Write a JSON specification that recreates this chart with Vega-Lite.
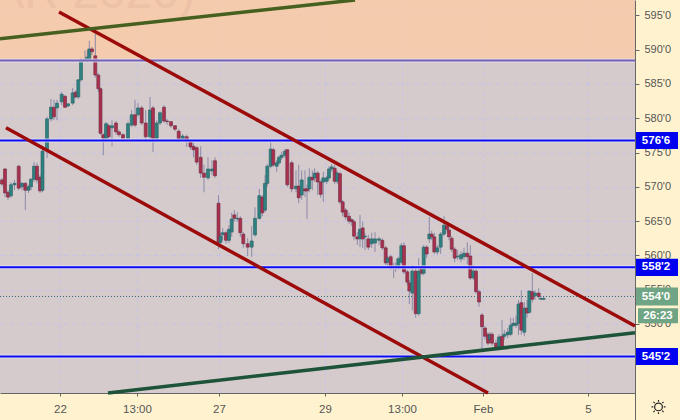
{"$schema":"https://vega.github.io/schema/vega-lite/v6.json","width":635,"height":393,"autosize":{"type":"none"},"padding":{"left":0,"top":0,"right":45,"bottom":27},"background":"#fff3cf","view":{"fill":"#d5cbcd","stroke":null},
"datasets":{"candles":[
{"t":2,"o":571.0,"c":570.4,"h":571.3,"l":570.1},{"t":5,"o":572.6,"c":569.1,"h":572.7,"l":568.5},{"t":8,"o":569.2,"c":568.5,"h":569.5,"l":568.1},{"t":11,"o":568.7,"c":570.3,"h":570.7,"l":568.4},{"t":14.5,"o":570.3,"c":570.5,"h":571,"l":569.5},{"t":18.7,"o":573,"c":569.8,"h":573.2,"l":569.5},{"t":22,"o":570,"c":570.5,"h":570.7,"l":569.5},{"t":25.3,"o":570.5,"c":569.5,"h":570.7,"l":566.6},{"t":28.5,"o":569.5,"c":570,"h":570.3,"l":569.1},{"t":31,"o":570,"c":571.1,"h":571.3,"l":569.5},{"t":34,"o":571.1,"c":573,"h":573.6,"l":570.7},{"t":37,"o":573,"c":571,"h":573.5,"l":570.5},{"t":40,"o":571.4,"c":569.4,"h":571.7,"l":569.1},{"t":42.5,"o":569.5,"c":575.2,"h":575.5,"l":569.2},{"t":47,"o":575.4,"c":579.9,"h":580.2,"l":574.2},{"t":51,"o":579.9,"c":581.6,"h":582.8,"l":579.5},{"t":54,"o":581.6,"c":580.2,"h":582.7,"l":579.7},{"t":57,"o":581.5,"c":582.2,"h":582.7,"l":579.7},{"t":61.7,"o":582.4,"c":583.5,"h":583.8,"l":581.9},{"t":65,"o":583.2,"c":581.6,"h":583.4,"l":581.5},{"t":68,"o":581.8,"c":582.1,"h":582.2,"l":581.6},{"t":72.7,"o":582.2,"c":583.7,"h":584.4,"l":581.9},{"t":75.7,"o":583.8,"c":583.1,"h":584.1,"l":582.9},{"t":78.3,"o":583.1,"c":585.6,"h":585.7,"l":582.8},{"t":81,"o":585.6,"c":588.5,"h":588.8,"l":585.3},{"t":85,"o":588.5,"c":588.6,"h":589.9,"l":588.3},{"t":87.3,"o":588.5,"c":588.9,"h":589.9,"l":588.2},{"t":89.3,"o":588.6,"c":590.1,"h":591.3,"l":588.5},{"t":92,"o":590.1,"c":589.7,"h":590.4,"l":589.2},{"t":95.3,"o":589.1,"c":586.3,"h":592.4,"l":585.9},{"t":98.3,"o":586.3,"c":584.3,"h":586.6,"l":583.8},{"t":100.5,"o":584.3,"c":577.8,"h":584.5,"l":577.6},{"t":103.3,"o":577.6,"c":577.1,"h":577.8,"l":574.6},{"t":106,"o":577.1,"c":579.2,"h":579.5,"l":576.5},{"t":108.7,"o":578.9,"c":577.3,"h":579.2,"l":576.8},{"t":112,"o":578.6,"c":578.9,"h":579.7,"l":575.9},{"t":116,"o":579.3,"c":578,"h":579.6,"l":577.6},{"t":119,"o":578,"c":577.6,"h":578.3,"l":577.3},{"t":123,"o":577.6,"c":577.1,"h":577.8,"l":576.5},{"t":128,"o":577.1,"c":579.2,"h":579.5,"l":576.8},{"t":131.7,"o":579,"c":580.5,"h":581.2,"l":578.7},{"t":135,"o":580.5,"c":579,"h":582.7,"l":578.7},{"t":138,"o":580.5,"c":581.5,"h":582.2,"l":580.2},{"t":141.7,"o":581.5,"c":579.3,"h":581.8,"l":579},{"t":145.7,"o":579.3,"c":577.3,"h":581.2,"l":576.5},{"t":150,"o":577.3,"c":581.2,"h":583.1,"l":576.5},{"t":153,"o":581.5,"c":577.1,"h":581.8,"l":575.1},{"t":156.7,"o":577.1,"c":579.3,"h":579.7,"l":576.5},{"t":160,"o":579.3,"c":580.8,"h":581,"l":579},{"t":164,"o":581.6,"c":579.6,"h":581.9,"l":579.3},{"t":167,"o":579.6,"c":579.5,"h":579.9,"l":579},{"t":171,"o":579.5,"c":578.9,"h":579.6,"l":578.6},{"t":175,"o":578.9,"c":578.4,"h":579,"l":578.1},{"t":178.7,"o":578.1,"c":577,"h":578.4,"l":576.5},{"t":182.7,"o":577,"c":577.4,"h":577.7,"l":576.7},{"t":186.7,"o":577.3,"c":576.8,"h":577.6,"l":575.8},{"t":190.5,"o":576.5,"c":575.8,"h":576.8,"l":575.4},{"t":193.5,"o":575.9,"c":575.4,"h":576.4,"l":574.3},{"t":196.7,"o":575.7,"c":573.6,"h":575.9,"l":573.2},{"t":200.7,"o":574.3,"c":572,"h":575.9,"l":571.3},{"t":204,"o":572,"c":571.4,"h":573.2,"l":569.2},{"t":208,"o":571.3,"c":572.6,"h":574.3,"l":571},{"t":212,"o":572.3,"c":572.6,"h":573.9,"l":571.7},{"t":215,"o":573.8,"c":571.6,"h":574.3,"l":571.3},{"t":218.5,"o":567.6,"c":561.9,"h":568.8,"l":560.9},{"t":220.5,"o":561.9,"c":562.8,"h":563.3,"l":561.5},{"t":222.7,"o":563,"c":563.3,"h":564,"l":562.2},{"t":226,"o":563.3,"c":562.2,"h":563.6,"l":561.7},{"t":229,"o":562.2,"c":563.8,"h":564.4,"l":561.8},{"t":231.7,"o":563.4,"c":565.3,"h":566.2,"l":562.7},{"t":234.3,"o":565.9,"c":565.4,"h":566.6,"l":564.9},{"t":237.3,"o":565.3,"c":565.4,"h":566.3,"l":564.9},{"t":240.3,"o":565.4,"c":563.3,"h":565.7,"l":562.7},{"t":243.3,"o":563.1,"c":561.7,"h":563.4,"l":561.1},{"t":247.7,"o":561.7,"c":561.2,"h":562.5,"l":559.9},{"t":251.7,"o":561.2,"c":562.1,"h":564.3,"l":559.8},{"t":255,"o":563,"c":565.4,"h":567,"l":562.7},{"t":259.3,"o":565.4,"c":568.7,"h":569.7,"l":565.2},{"t":262.3,"o":568.5,"c":566.2,"h":568.8,"l":565.7},{"t":265,"o":566.6,"c":570.5,"h":571.7,"l":566.3},{"t":267.3,"o":570.5,"c":573,"h":573.3,"l":570},{"t":270.7,"o":573,"c":575.5,"h":576.5,"l":572.7},{"t":273.3,"o":575.4,"c":573.2,"h":575.7,"l":572.9},{"t":276.7,"o":573,"c":573.5,"h":573.9,"l":572.2},{"t":279,"o":573.5,"c":574.3,"h":574.6,"l":573.2},{"t":281.7,"o":574.3,"c":574.6,"h":575.1,"l":573.9},{"t":285,"o":574.6,"c":575.2,"h":575.5,"l":574.2},{"t":287.3,"o":575.4,"c":570.3,"h":575.5,"l":570},{"t":291.7,"o":573.5,"c":569.7,"h":573.8,"l":569.2},{"t":296,"o":569.7,"c":570.1,"h":572.4,"l":569.2},{"t":298.7,"o":570.1,"c":568.4,"h":573.2,"l":567.6},{"t":301.7,"o":568.8,"c":571,"h":572.4,"l":568.1},{"t":305,"o":569.7,"c":569.4,"h":572.4,"l":568.5},{"t":307,"o":569.7,"c":569.4,"h":570.3,"l":565.3},{"t":309.3,"o":569.7,"c":571.4,"h":572.7,"l":569.2},{"t":312.3,"o":571.4,"c":571,"h":572.4,"l":569.5},{"t":314.7,"o":571.3,"c":572,"h":572.7,"l":570.7},{"t":317.7,"o":572,"c":570.7,"h":572.3,"l":568.8},{"t":320.7,"o":570.7,"c":568.9,"h":571,"l":568.4},{"t":323.3,"o":570.7,"c":571.3,"h":572.2,"l":567.8},{"t":326.7,"o":570.8,"c":571.3,"h":571.6,"l":570.4},{"t":329,"o":571.3,"c":572.6,"h":573,"l":571},{"t":331.7,"o":572.6,"c":572.9,"h":573.3,"l":572.2},{"t":334.7,"o":572.7,"c":570.8,"h":573.2,"l":570.4},{"t":337.3,"o":570.8,"c":572,"h":572.3,"l":570.4},{"t":340,"o":571.9,"c":567.8,"h":572.2,"l":567.5},{"t":342.7,"o":567.8,"c":566.3,"h":568.1,"l":565.7},{"t":345.7,"o":566.6,"c":565.6,"h":566.9,"l":565.2},{"t":349,"o":565.7,"c":565,"h":566.3,"l":564.6},{"t":351.7,"o":565.2,"c":564.9,"h":565.4,"l":564.3},{"t":354,"o":564.9,"c":562.8,"h":565.2,"l":562.2},{"t":357.3,"o":562.7,"c":562.4,"h":563.4,"l":561.5},{"t":360,"o":562.4,"c":563.8,"h":565.9,"l":561.2},{"t":362.7,"o":564,"c":562.4,"h":564.9,"l":561.1},{"t":365,"o":562.7,"c":562.8,"h":563.3,"l":560.8},{"t":368.3,"o":562.4,"c":561.2,"h":563,"l":560.8},{"t":371.7,"o":561.7,"c":562.4,"h":563.3,"l":561.1},{"t":375,"o":561.8,"c":562.4,"h":563.4,"l":560.5},{"t":379,"o":562.2,"c":562.4,"h":562.7,"l":561.5},{"t":382.3,"o":562.2,"c":561.1,"h":562.5,"l":560.8},{"t":385.7,"o":561.1,"c":558.9,"h":561.4,"l":558.6},{"t":387.7,"o":559,"c":559.6,"h":559.9,"l":558.4},{"t":390.7,"o":559.8,"c":558.3,"h":560.1,"l":557.9},{"t":393.7,"o":558.3,"c":558.4,"h":558.9,"l":556.7},{"t":395.7,"o":558.3,"c":558.4,"h":559,"l":557.6},{"t":398.3,"o":558.3,"c":559.5,"h":559.8,"l":557.9},{"t":401.3,"o":559,"c":561.4,"h":561.8,"l":558.7},{"t":404,"o":561.4,"c":557.6,"h":561.9,"l":557.3},{"t":407.3,"o":557.6,"c":556.1,"h":557.9,"l":555.7},{"t":409.3,"o":556,"c":554.8,"h":556.4,"l":552.9},{"t":412.3,"o":554.5,"c":557.7,"h":558.6,"l":552},{"t":415.7,"o":557.7,"c":551.5,"h":558.2,"l":550.9},{"t":418.7,"o":551.5,"c":557.7,"h":559.6,"l":551.2},{"t":421.7,"o":558.2,"c":557.4,"h":558.4,"l":557.1},{"t":423.7,"o":557.4,"c":561.2,"h":561.5,"l":557.1},{"t":426.7,"o":561.2,"c":560.2,"h":561.5,"l":559.6},{"t":429.3,"o":562.4,"c":563.1,"h":565.6,"l":561.8},{"t":431.7,"o":563.1,"c":562.7,"h":563.6,"l":562.2},{"t":434.3,"o":562.7,"c":560.5,"h":563.3,"l":560.2},{"t":437.3,"o":560.5,"c":561.1,"h":561.5,"l":560.1},{"t":440.7,"o":561.2,"c":563.1,"h":563.4,"l":560.2},{"t":444,"o":563.1,"c":564.4,"h":565.7,"l":562.8},{"t":447,"o":564.3,"c":563.8,"h":564.6,"l":563.3},{"t":449,"o":563.7,"c":562.7,"h":564,"l":562.2},{"t":451.7,"o":562.5,"c":560.9,"h":562.8,"l":560.5},{"t":454.7,"o":560.9,"c":559.6,"h":561.2,"l":559},{"t":457.7,"o":559.8,"c":559.9,"h":560.8,"l":559.3},{"t":461,"o":559.5,"c":560.1,"h":560.6,"l":559},{"t":464,"o":559.8,"c":560.3,"h":561.1,"l":559.3},{"t":467.3,"o":560.3,"c":559.8,"h":561.9,"l":558.7},{"t":470.3,"o":559.9,"c":556.7,"h":561.5,"l":556.4},{"t":473.3,"o":556.7,"c":557.7,"h":558.6,"l":556.4},{"t":476,"o":557.7,"c":554.7,"h":558,"l":554.4},{"t":479,"o":554.7,"c":553.2,"h":555,"l":552.5},{"t":482,"o":551.3,"c":549.6,"h":551.6,"l":546.3},{"t":485,"o":549.4,"c":548.2,"h":549.7,"l":547.7},{"t":488,"o":548.5,"c":547.2,"h":548.8,"l":546.9},{"t":490,"o":547.7,"c":548.4,"h":548.8,"l":547.2},{"t":492,"o":548.5,"c":547.2,"h":548.8,"l":546.8},{"t":496,"o":547.2,"c":546.6,"h":547.7,"l":546.3},{"t":499,"o":546.6,"c":548.1,"h":548.5,"l":546.3},{"t":502,"o":548.2,"c":546.6,"h":550.6,"l":546.3},{"t":504.3,"o":548.2,"c":548.5,"h":549.1,"l":547.7},{"t":507.7,"o":548.4,"c":548.8,"h":549.4,"l":547.9},{"t":510.7,"o":548.5,"c":549.8,"h":550.9,"l":548.2},{"t":513.3,"o":549.8,"c":550.1,"h":550.9,"l":549.6},{"t":516,"o":549.8,"c":550.1,"h":551.2,"l":549.4},{"t":518.5,"o":550.1,"c":552.9,"h":553.5,"l":548.4},{"t":521.3,"o":553.1,"c":549.1,"h":554.9,"l":548.4},{"t":524.3,"o":548.8,"c":552.3,"h":553.2,"l":548.2},{"t":527,"o":552.3,"c":551.6,"h":553.5,"l":550.9},{"t":529.3,"o":551.7,"c":554.8,"h":554.9,"l":551.5},{"t":532.3,"o":554.7,"c":553.6,"h":557.4,"l":553.1},{"t":535,"o":554.1,"c":554.5,"h":554.9,"l":553.5},{"t":538.7,"o":554.5,"c":554,"h":555.2,"l":553.6},{"t":541,"o":553.6,"c":553.7,"h":554.1,"l":553.5},{"t":543.7,"o":553.6,"c":553.7,"h":554.1,"l":553.5}
],
"lines":[
{"name":"red","x1":59,"y1":595.5,"x2":635,"y2":549.7},
{"name":"red","x1":6,"y1":578.6,"x2":488,"y2":539.93},
{"name":"olive","x1":0,"y1":591.6,"x2":355,"y2":597.24},
{"name":"green","x1":108,"y1":539.93,"x2":635,"y2":548.7}
],
"levels":[
{"name":"purple","y":588.42},
{"name":"blue","y":576.75},
{"name":"blue","y":558.25},
{"name":"blue","y":545.25}
],
"tags":[
{"x1":636,"x2":678,"y1":578.0,"y2":575.5,"label":"576'6","kind":"blue","xm":656,"ym":576.75},
{"x1":636,"x2":678,"y1":559.5,"y2":557.0,"label":"558'2","kind":"blue","xm":656,"ym":558.25},
{"x1":636,"x2":678,"y1":546.5,"y2":544.0,"label":"545'2","kind":"blue","xm":656,"ym":545.25},
{"x1":636,"x2":678,"y1":555.3,"y2":552.7,"label":"554'0","kind":"green","xm":656,"ym":554.0},
{"x1":638,"x2":678,"y1":552.3,"y2":550.1,"label":"26:23","kind":"green","xm":658,"ym":551.2}
]},
"layer":[
{"data":{"values":[{"a":0,"b":635,"p":588.42,"q":597.24}]},"mark":{"type":"rect","fill":"#ffcba1","opacity":0.75},
 "encoding":{
  "x":{"field":"a","type":"quantitative","scale":{"domain":[0,635],"nice":false,"zero":false,"padding":0},
   "axis":{"title":null,"values":[60,137,219,325,402,483,588],"labelExpr":"datum.value==60?'22':datum.value==137?'13:00':datum.value==219?'27':datum.value==325?'29':datum.value==402?'13:00':datum.value==483?'Feb':'5'","labelOverlap":false,"grid":true,"gridColor":"#c6c4e6","gridDash":[5,4],"gridWidth":1,"domainColor":"#666","tickColor":"#666","tickSize":3,"labelColor":"#555","labelFont":"Liberation Sans","labelFontSize":11.5,"labelPadding":7,"labelFlush":false}},
  "x2":{"field":"b"},
  "y":{"field":"p","type":"quantitative","scale":{"domain":[539.93,597.24],"nice":false,"zero":false,"padding":0},
   "axis":{"title":null,"orient":"right","values":[550,555,560,565,570,575,580,585,590,595],"format":"d","labelExpr":"datum.label+\"'0\"","labelOverlap":false,"grid":true,"gridColor":"#c6c4e6","gridDash":[5,4],"gridWidth":1,"domainColor":"#666","tickColor":"#666","tickSize":4,"labelColor":"#555","labelFont":"Liberation Sans","labelFontSize":11,"labelPadding":5,"labelFlush":false}},
  "y2":{"field":"q"}}},
{"data":{"values":[{"x":195,"y":596.1,"s":"(MAR 2020)"}]},"mark":{"type":"text","align":"right","baseline":"alphabetic","font":"Liberation Sans","fontSize":48,"color":"#ebc2a5"},
 "encoding":{"x":{"field":"x","type":"quantitative"},"y":{"field":"y","type":"quantitative"},"text":{"field":"s"}}},
{"data":{"name":"candles"},"mark":{"type":"rule","strokeWidth":1,"color":"#8b89a8"},
 "encoding":{"x":{"field":"t","type":"quantitative"},"y":{"field":"h","type":"quantitative"},"y2":{"field":"l"}}},
{"data":{"name":"candles"},"mark":{"type":"bar","size":3,"strokeWidth":0.6},
 "encoding":{"x":{"field":"t","type":"quantitative"},"y":{"field":"o","type":"quantitative"},"y2":{"field":"c"},
  "fill":{"condition":{"test":"datum.c>=datum.o","value":"#2f8081"},"value":"#a9304f"},
  "stroke":{"condition":{"test":"datum.c>=datum.o","value":"#255f60"},"value":"#6e2a3e"}}},
{"data":{"values":[{"x":0,"x2":635,"y":554}]},"mark":{"type":"rule","strokeWidth":1,"strokeDash":[1,2],"color":"#2f6e6e"},
 "encoding":{"x":{"field":"x","type":"quantitative"},"x2":{"field":"x2"},"y":{"field":"y","type":"quantitative"}}},
{"data":{"name":"levels"},"mark":{"type":"rule","strokeWidth":4,"color":"#e6e2ee","opacity":0.8},
 "encoding":{"y":{"field":"y","type":"quantitative"}}},
{"data":{"name":"levels"},"transform":[{"filter":"datum.name=='purple'"}],"mark":{"type":"rule","strokeWidth":2,"color":"#7460b8"},
 "encoding":{"y":{"field":"y","type":"quantitative"}}},
{"data":{"name":"levels"},"transform":[{"filter":"datum.name=='blue'"}],"mark":{"type":"rule","strokeWidth":2,"color":"#0a0af5"},
 "encoding":{"y":{"field":"y","type":"quantitative"}}},
{"data":{"name":"lines"},"mark":{"type":"rule","strokeWidth":3.5},
 "encoding":{"x":{"field":"x1","type":"quantitative"},"x2":{"field":"x2"},"y":{"field":"y1","type":"quantitative"},"y2":{"field":"y2"},
  "color":{"field":"name","type":"nominal","legend":null,"scale":{"domain":["red","olive","green"],"range":["#9c0a0a","#46601f","#1d5439"]}}}},
{"data":{"values":[{"x":635.5,"a":539.93,"b":535.99}]},"mark":{"type":"rule","strokeWidth":1,"color":"#666"},
 "encoding":{"x":{"field":"x","type":"quantitative"},"y":{"field":"a","type":"quantitative"},"y2":{"field":"b"}}},
{"data":{"name":"tags"},"mark":{"type":"rect"},
 "encoding":{"x":{"field":"x1","type":"quantitative"},"x2":{"field":"x2"},"y":{"field":"y1","type":"quantitative"},"y2":{"field":"y2"},
  "fill":{"condition":{"test":"datum.kind=='blue'","value":"#0000f0"},"value":"#6fa584"}}},
{"data":{"name":"tags"},"mark":{"type":"text","font":"Liberation Sans","fontWeight":"bold","fontSize":11.5,"color":"#ffffff","align":"center","baseline":"middle"},
 "encoding":{"x":{"field":"xm","type":"quantitative"},"y":{"field":"ym","type":"quantitative"},"text":{"field":"label"}}},
{"data":{"values":[{"x":658.5,"y":537.9}]},"mark":{"type":"point","filled":false,"color":"#222","strokeWidth":1.2,"opacity":1,"size":196,"shape":"M0,-1L0,-0.75M0,1L0,0.75M-1,0L-0.75,0M1,0L0.75,0M-0.72,-0.72L-0.54,-0.54M0.72,0.72L0.54,0.54M-0.72,0.72L-0.54,0.54M0.72,-0.72L0.54,-0.54M-0.55,0A0.55,0.55,0,1,1,0.55,0A0.55,0.55,0,1,1,-0.55,0Z"},
 "encoding":{"x":{"field":"x","type":"quantitative"},"y":{"field":"y","type":"quantitative"}}}
]}
